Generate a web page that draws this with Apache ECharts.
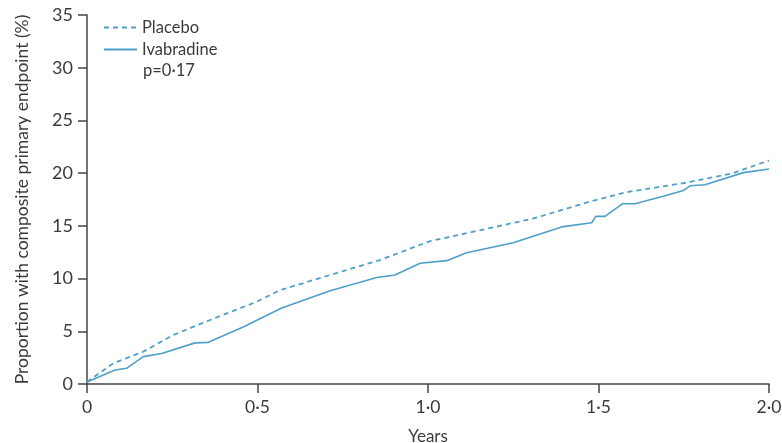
<!DOCTYPE html>
<html>
<head>
<meta charset="utf-8">
<script src="https://cdn.jsdelivr.net/npm/echarts@6/dist/echarts.min.js"></script>
<style>
  html, body { margin: 0; padding: 0; background: #fff; }
  #chart { width: 782px; height: 443px; }
</style>
</head>
<body>
<div id="chart"></div>
<script>
// values (years, % with endpoint)
const placeboYears = [0, 0.077, 0.165, 0.253, 0.361, 0.497, 0.566, 0.713, 0.859, 1.006, 1.113, 1.309, 1.475, 1.583, 1.758, 1.894, 2.0];
const placeboValues = [0.2, 1.96, 3.07, 4.65, 6.07, 7.8, 8.9, 10.34, 11.76, 13.55, 14.3, 15.7, 17.3, 18.2, 19.1, 20.0, 21.2];

const ivabradineYears = [0, 0.082, 0.116, 0.165, 0.219, 0.317, 0.356, 0.458, 0.571, 0.713, 0.85, 0.903, 0.977, 1.055, 1.113, 1.25, 1.392, 1.48, 1.492, 1.519, 1.571, 1.607, 1.69, 1.749, 1.768, 1.812, 1.925, 2.0];
const ivabradineValues = [0.2, 1.33, 1.49, 2.6, 2.9, 3.9, 3.95, 5.4, 7.2, 8.85, 10.1, 10.34, 11.45, 11.7, 12.45, 13.4, 14.9, 15.3, 15.9, 15.9, 17.1, 17.1, 17.8, 18.35, 18.8, 18.9, 20.05, 20.4];

const xTicks = [0, 0.5, 1.0, 1.5, 2.0];
const xTickLabels = ['0', '0·5', '1·0', '1·5', '2·0'];

const lineColor = '#4fa0c8';
const textColor = '#3b3b3b';
const fontName = 'Lato';

function pairs(xs, ys) {
  return xs.map((x, i) => [x, ys[i]]);
}

const chart = echarts.init(document.getElementById('chart'));
chart.setOption({
  animation: false,
  grid: { left: 87, right: 13, top: 15, bottom: 59, containLabel: false, outerBoundsMode: 'none' },
  legend: {
    orient: 'vertical',
    left: 98,
    top: 14,
    itemWidth: 33,
    itemHeight: 10,
    itemGap: 5,
    itemStyle: { opacity: 0 },
    textStyle: { fontFamily: fontName, fontSize: 16.5, color: textColor },
    data: ['Placebo', 'Ivabradine']
  },
  graphic: [{
    type: 'text',
    left: 143,
    top: 62,
    style: { text: 'p=0·17', font: '16.5px ' + fontName, fill: textColor }
  }],
  xAxis: {
    type: 'value',
    min: 0,
    max: 2,
    interval: 0.5,
    name: 'Years',
    nameLocation: 'middle',
    nameGap: 44,
    nameTextStyle: { fontFamily: fontName, fontSize: 17, color: textColor },
    axisLine: { lineStyle: { color: '#444', width: 1.5 } },
    axisTick: { length: 9, lineStyle: { color: '#444', width: 1.5 } },
    axisLabel: {
      fontFamily: fontName, fontSize: 17.5, color: textColor, margin: 14,
      formatter: v => xTickLabels[xTicks.findIndex(t => Math.abs(t - v) < 1e-9)] ?? ''
    },
    splitLine: { show: false }
  },
  yAxis: {
    type: 'value',
    min: 0,
    max: 35,
    interval: 5,
    name: 'Proportion with composite primary endpoint (%)',
    nameLocation: 'middle',
    nameGap: 56,
    nameTextStyle: { fontFamily: fontName, fontSize: 17.5, color: textColor },
    axisLine: { show: true, lineStyle: { color: '#444', width: 1.5 } },
    axisTick: { show: true, length: 9, lineStyle: { color: '#444', width: 1.5 } },
    axisLabel: { fontFamily: fontName, fontSize: 18, color: textColor, margin: 14 },
    splitLine: { show: false }
  },
  series: [
    {
      name: 'Placebo',
      type: 'line',
      symbol: 'none',
      color: lineColor,
      lineStyle: { type: [5, 4], width: 1.8, color: lineColor },
      data: pairs(placeboYears, placeboValues)
    },
    {
      name: 'Ivabradine',
      type: 'line',
      symbol: 'none',
      color: lineColor,
      lineStyle: { width: 1.6, color: lineColor },
      data: pairs(ivabradineYears, ivabradineValues)
    }
  ]
});
</script>
</body>
</html>
